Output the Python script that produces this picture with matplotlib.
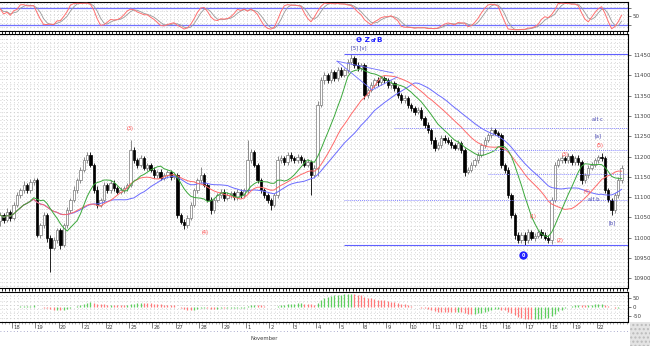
import numpy as np
import pandas as pd
import matplotlib
matplotlib.use("Agg")
from matplotlib import pyplot as plt
from matplotlib.transforms import blended_transform_factory

# ------------------------------------------------------------------------------
#  Data: hourly bars, last 4 bars of Oct 15 .. first bar of Nov 23
# ------------------------------------------------------------------------------
first_open = 11040
closes = [
    11056, 11044, 11063, 11049,
    11081, 11105, 11117, 11130, 11117, 11137, 11142,   # 18
    11007, 11031, 11056, 11000, 10975, 10994, 11019,   # 19
    10982, 11031, 11068, 11093, 11117, 11142, 11167,   # 20
    11191, 11204, 11179, 11117, 11081, 11093, 11130,   # 21
    11117, 11135, 11122, 11113, 11117, 11122, 11130,   # 22
    11216, 11191, 11179, 11196, 11172, 11179, 11167,   # 25
    11154, 11162, 11147, 11154, 11162, 11150, 11154,   # 26
    11056, 11039, 11031, 11049, 11081, 11117, 11142,   # 27
    11154, 11130, 11093, 11068, 11093, 11105, 11113,   # 28
    11098, 11105, 11110, 11100, 11113, 11105, 11117,   # 29
    11191, 11211, 11179, 11142, 11117, 11105, 11093,   # 1
    11081, 11105, 11191, 11196, 11186, 11204, 11196,   # 2
    11191, 11199, 11191, 11179, 11186, 11154, 11172,   # 3
    11327, 11388, 11401, 11388, 11408, 11393, 11413,   # 4
    11401, 11413, 11433, 11443, 11425, 11418, 11425,   # 5
    11351, 11364, 11376, 11388, 11383, 11393, 11388,   # 8
    11376, 11381, 11369, 11351, 11339, 11344, 11327,   # 9
    11319, 11310, 11315, 11295, 11278, 11265, 11241,   # 10
    11221, 11228, 11246, 11241, 11236, 11228, 11221,   # 11
    11233, 11216, 11162, 11167, 11179, 11191, 11204,   # 12
    11228, 11241, 11253, 11265, 11258, 11253, 11179,   # 15
    11167, 11105, 11056, 11007, 10994, 11007, 10994,   # 16
    11014, 11000, 11004, 11014, 11007, 11000, 10994,   # 17
    11093, 11179, 11191, 11196, 11191, 11201, 11186,   # 18
    11196, 11186, 11142, 11154, 11172, 11179, 11191,   # 19
    11199, 11196, 11117, 11093, 11068, 11105, 11142,   # 22
    11172,
]
wick_hi = [
    8, 6, 10, 6,
    6, 8, 6, 10, 6, 8, 6,
    6, 6, 8, 6, 6, 8, 6,
    6, 6, 8, 6, 10, 6, 8,
    8, 6, 6, 6, 10, 6, 8,
    6, 8, 6, 6, 8, 6, 6,
    25, 8, 6, 8, 6, 6, 6,
    6, 6, 8, 6, 6, 6, 6,
    6, 6, 8, 6, 6, 6, 6,
    20, 6, 6, 8, 6, 6, 6,
    6, 8, 6, 6, 6, 6, 6,
    50, 8, 6, 6, 6, 6, 6,
    6, 6, 10, 8, 6, 8, 6,
    6, 8, 6, 6, 8, 6, 6,
    10, 8, 8, 6, 8, 6, 8,
    8, 6, 8, 9, 6, 8, 6,
    6, 6, 8, 6, 8, 6, 6,
    6, 8, 6, 6, 6, 8, 6,
    6, 6, 8, 6, 6, 6, 6,
    6, 8, 6, 6, 8, 6, 6,
    8, 6, 6, 6, 8, 6, 6,
    6, 8, 6, 8, 6, 6, 6,
    6, 6, 6, 6, 8, 6, 6,
    8, 6, 8, 6, 8, 6, 6,
    8, 8, 6, 8, 6, 8, 6,
    6, 8, 6, 6, 6, 8, 6,
    6, 10, 6, 6, 6, 6, 8,
    6,
]
wick_lo = [
    10, 8, 6, 8,
    6, 6, 8, 6, 6, 8, 6,
    6, 8, 6, 10, 59, 6, 8,
    10, 6, 6, 6, 6, 6, 6,
    6, 8, 6, 6, 8, 6, 6,
    6, 6, 8, 6, 6, 8, 6,
    6, 6, 8, 6, 6, 8, 6,
    6, 8, 6, 6, 6, 8, 6,
    8, 6, 10, 6, 6, 6, 6,
    6, 6, 6, 10, 6, 6, 6,
    8, 6, 6, 8, 6, 6, 6,
    6, 6, 6, 6, 8, 6, 8,
    12, 6, 6, 6, 8, 6, 6,
    6, 6, 8, 6, 6, 49, 8,
    20, 6, 8, 6, 6, 8, 6,
    6, 6, 6, 6, 8, 6, 6,
    10, 6, 6, 6, 8, 6, 6,
    6, 6, 8, 6, 6, 6, 8,
    6, 8, 6, 6, 8, 6, 10,
    8, 6, 6, 8, 6, 6, 6,
    6, 8, 10, 6, 6, 6, 6,
    6, 6, 6, 8, 6, 6, 8,
    8, 6, 8, 10, 8, 6, 12,
    8, 6, 8, 6, 8, 6, 8,
    10, 6, 6, 6, 8, 6, 6,
    6, 6, 10, 6, 6, 6, 6,
    6, 6, 8, 6, 12, 6, 6,
    6,
]
day_labels = ["18", "19", "20", "21", "22", "25", "26", "27", "28", "29",
              "1", "2", "3", "4", "5", "8", "9", "10", "11", "12",
              "15", "16", "17", "18", "19", "22"]
month_label = "November"
price_ticks = list(range(10900, 11451, 50))
level_top, level_bottom = 11452, 10982
levels_dotted = [11270, 11216, 11157, 11093]

# ------------------------------------------------------------------------------
#  Indicators
# ------------------------------------------------------------------------------
c = np.array(closes, float)
o = np.r_[first_open, c[:-1]]
h = np.maximum(o, c) + np.array(wick_hi)
l = np.minimum(o, c) - np.array(wick_lo)
x = np.arange(len(c))

s_c, s_h, s_l = pd.Series(c), pd.Series(h), pd.Series(l)
ma_fast = s_c.rolling(10, min_periods=1).mean()
ma_mid = s_c.rolling(20, min_periods=1).mean()
ma_slow = s_c.rolling(30, min_periods=1).mean()

hh = s_h.rolling(8, min_periods=1).max()
ll = s_l.rolling(8, min_periods=1).min()
k_fast = 100 * (s_c - ll) / (hh - ll)
stoch_k = k_fast.rolling(3, min_periods=1).mean()
stoch_d = stoch_k.rolling(3, min_periods=1).mean()

macd = s_c.ewm(span=12).mean() - s_c.ewm(span=26).mean()
macd_up = macd.diff().fillna(0) >= 0

# ------------------------------------------------------------------------------
#  Figure layout (pixel based)
# ------------------------------------------------------------------------------
W, H = 650, 346
fig = plt.figure(figsize=(W / 100, H / 100), dpi=100)


def box(top, bottom, right=628):
    return [0, 1 - bottom / H, right / W, (bottom - top) / H]


ax_o = fig.add_axes(box(2, 31))
ax = fig.add_axes(box(34, 288), sharex=ax_o)
ax_m = fig.add_axes(box(292, 322), sharex=ax_o)
XL = (-0.09, 187.9)

DOT = (0, (1, 3))
GRID = "#c8c8c8"


def dot_grid(a, y0, y1, step):
    a.vlines(np.arange(XL[0] + 0.6, XL[1], 1.2), y0, y1, colors=GRID,
             linestyles=DOT, lw=0.6, zorder=0)
    a.hlines(np.arange(y0, y1, step), XL[0], XL[1], colors=GRID,
             linestyles=DOT, lw=0.6, zorder=0)


for a in (ax_o, ax, ax_m):
    a.set_xlim(*XL)
    a.yaxis.tick_right()
    a.tick_params(axis="y", labelsize=4, colors="#404040", length=2,
                  width=0.5, pad=1.5)
    a.tick_params(axis="x", labelbottom=False, length=0)
    for side in ("top", "bottom", "right"):
        a.spines[side].set_linewidth(0.8)
    a.spines["left"].set_visible(False)

# --- oscillator -------------------------------------------------------------
ax_o.set_ylim(-1, 101)
dot_grid(ax_o, -1, 101, 14)
ax_o.axhline(80, color="#7070ff", lw=0.9, zorder=1)
ax_o.axhline(20, color="#7070ff", lw=0.9, zorder=1)
ax_o.plot(x, stoch_d, color="#999999", lw=0.6, zorder=2)
ax_o.plot(x, stoch_k, color="#ff7070", lw=0.7, zorder=3)
ax_o.set_yticks([20, 50, 80])
ax_o.set_yticklabels(["", "50", ""])

# --- price ------------------------------------------------------------------
ax.set_ylim(10876, 11502)
dot_grid(ax, 10880, 11502, 10)

up = c >= o
ax.vlines(x, l, h, colors=np.where(up, "#777777", "#000000"), lw=0.6, zorder=2)
ax.bar(x[up], np.maximum((c - o)[up], 1.5), bottom=o[up], width=0.7,
       color="white", edgecolor="#777777", lw=0.5, zorder=2)
ax.bar(x[~up], np.maximum((o - c)[~up], 1.5), bottom=c[~up], width=0.7,
       color="black", edgecolor="black", lw=0.5, zorder=2)

ax.plot(x, ma_slow, color="#6b6bff", lw=0.7, zorder=3)
ax.plot(x, ma_mid, color="#ff6a6a", lw=0.7, zorder=3)
ax.plot(x, ma_fast, color="#3aa83a", lw=0.7, zorder=3)

ax.hlines(level_top, 103, XL[1], color="#6060ff", lw=0.8, zorder=3)
ax.hlines(level_bottom, 103, XL[1], color="#6060ff", lw=0.8, zorder=3)
for lv, start in zip(levels_dotted, (118, 143, 146, 103)):
    ax.hlines(lv, start, XL[1], color="#8a8aff", lw=0.7, linestyles=(0, (1, 1)),
              zorder=3)

# wedge lines around the top
ax.plot([100.8, 117.6], [11435, 11406], color="#7070ff", lw=0.6, zorder=3)
ax.plot([100.8, 111.3, 118.8], [11435, 11364, 11396], color="#7070ff", lw=0.6,
        zorder=3)

ax.set_yticks(price_ticks)
ax.set_yticklabels([str(v) for v in price_ticks])

red, blue, navy = "#ff4040", "#2020ff", "#4040b0"
lab = dict(fontsize=3.6, ha="center", va="center", zorder=5)
ax.text(106.5, 11487, "\u2776 Z", color=blue, fontsize=5.2,
        fontweight="bold", ha="left", va="center", zorder=5)
ax.text(110.9, 11486, "of", color=blue, fontsize=3.6,
        fontweight="bold", ha="left", va="center", zorder=5)
ax.text(112.6, 11487, "B", color=blue, fontsize=5.2,
        fontweight="bold", ha="left", va="center", zorder=5)
ax.text(107.2, 11468, "[5] [v]", color=navy, **lab)
ax.text(38.8, 11270, "(3)", color=red, **lab)
ax.text(61.3, 11012, "(4)", color=red, **lab)
ax.text(159.5, 11051, "(1)", color=red, **lab)
ax.text(167.5, 10994, "(2)", color=red, **lab)
ax.text(169.1, 11204, "(3)", color=red, **lab)
ax.text(175.7, 11113, "(4)", color=red, **lab)
ax.text(179.6, 11226, "(5)", color=red, **lab)
ax.text(178.7, 11292, "alt c", color=navy, **lab)
ax.text(179.0, 11250, "[a]", color=navy, **lab)
ax.text(177.5, 11093, "alt b", color=navy, **lab)
ax.text(183.1, 11036, "[b]", color=navy, **lab)
# wave 0 marker: filled blue disc with a white digit
ax.plot([156.5], [10957], "o", ms=5, color=blue, zorder=5)
ax.text(156.5, 10957, "0", color="white", fontsize=3.4, fontweight="bold",
        ha="center", va="center", zorder=6)

# --- momentum histogram -----------------------------------------------------
lim = float(np.abs(macd).max()) * 1.15
ax_m.set_ylim(-lim, lim)
dot_grid(ax_m, -lim, lim, lim / 3.5)
ax_m.vlines(x, 0, macd, colors=np.where(macd_up, "#5fcf5f", "#ff7a7a"),
            lw=0.9, zorder=2)
mt = [-50, 0, 50]
ax_m.set_yticks(mt)
ax_m.set_yticklabels([str(v) for v in mt])

# date strip
day_starts = 3.5 + 7 * np.arange(len(day_labels))
ax_m.set_xticks(day_starts)
ax_m.set_xticks(np.arange(XL[0] + 0.6, XL[1], 1.0), minor=True)
ax_m.tick_params(axis="x", which="major", direction="out", length=4,
                 width=0.5, color="#555555")
ax_m.tick_params(axis="x", which="minor", direction="out", length=1.5,
                 width=0.4, color="#777777")
tr = blended_transform_factory(ax_m.transData, ax_m.transAxes)
for xs, lb in zip(day_starts, day_labels):
    ax_m.text(xs + 0.4, -0.17, lb, transform=tr, fontsize=3.8, color="#404040",
              ha="left", va="center")
ax_m.text(day_starts[10] + 1.5, -0.55, month_label, transform=tr, fontsize=3.8,
          color="#404040", ha="left", va="center")
fig.add_artist(plt.Line2D([0, 628 / W], [1 - 331 / H] * 2, color="#9090c0",
                          lw=0.6, ls=DOT))
fig.add_artist(plt.Rectangle((630 / W, 0), 20 / W, 24 / H, facecolor="#e4e4e4",
                             edgecolor="#bbbbbb", hatch="....", lw=0))

fig.savefig("out.png", dpi=100)
